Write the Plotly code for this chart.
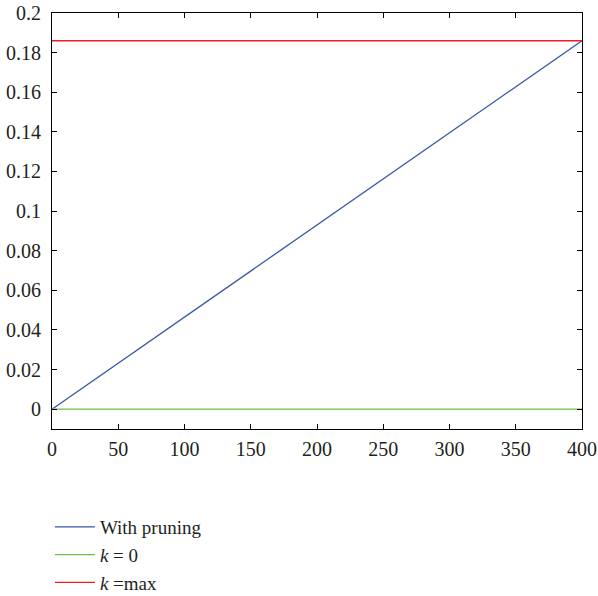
import plotly.graph_objects as go

# Series data
x_pruning = [0, 400]
y_pruning = [0.0, 0.186]

x_k0 = [0, 400]
y_k0 = [0.0, 0.0]

x_kmax = [0, 400]
y_kmax = [0.186, 0.186]

x_ticks = [0, 50, 100, 150, 200, 250, 300, 350, 400]
y_ticks = [0, 0.02, 0.04, 0.06, 0.08, 0.1, 0.12, 0.14, 0.16, 0.18, 0.2]
y_tick_text = ["0", "0.02", "0.04", "0.06", "0.08", "0.1", "0.12", "0.14", "0.16", "0.18", "0.2"]

FONT = "Liberation Serif"
TEXT_COLOR = "#231f20"

fig = go.Figure()
fig.add_trace(go.Scatter(x=x_pruning, y=y_pruning, mode="lines", name="With pruning",
                         line=dict(color="#3a56a8", width=1.3)))
fig.add_trace(go.Scatter(x=x_k0, y=y_k0, mode="lines", name="<i>k</i> = 0",
                         line=dict(color="#6cc04a", width=1.3)))
fig.add_trace(go.Scatter(x=x_kmax, y=y_kmax, mode="lines", name="<i>k</i> =max",
                         line=dict(color="#ee1c24", width=1.3)))

axis_common = dict(
    showline=True, linecolor="black", linewidth=1, mirror="allticks",
    ticks="inside", ticklen=5, tickwidth=1, tickcolor="black",
    showgrid=False, zeroline=False, automargin=False,
    tickfont=dict(family=FONT, size=20, color=TEXT_COLOR),
)

fig.update_xaxes(range=[0, 400], tickvals=x_ticks, ticktext=[str(v) for v in x_ticks],
                 ticklabelstandoff=2, **axis_common)
fig.update_yaxes(range=[-0.01, 0.2], tickvals=y_ticks, ticktext=y_tick_text,
                 ticklabelstandoff=6, **axis_common)

fig.update_layout(
    width=598, height=596,
    margin=dict(l=52, r=16, t=12.5, b=167, autoexpand=False),
    paper_bgcolor="white", plot_bgcolor="white",
    showlegend=True,
    legend=dict(
        x=-0.004, y=-0.19, xanchor="left", yanchor="top",
        orientation="v",
        font=dict(family=FONT, size=19, color=TEXT_COLOR),
        bgcolor="rgba(0,0,0,0)", borderwidth=0, itemwidth=40,
    ),
)

fig.write_html("out.html")
